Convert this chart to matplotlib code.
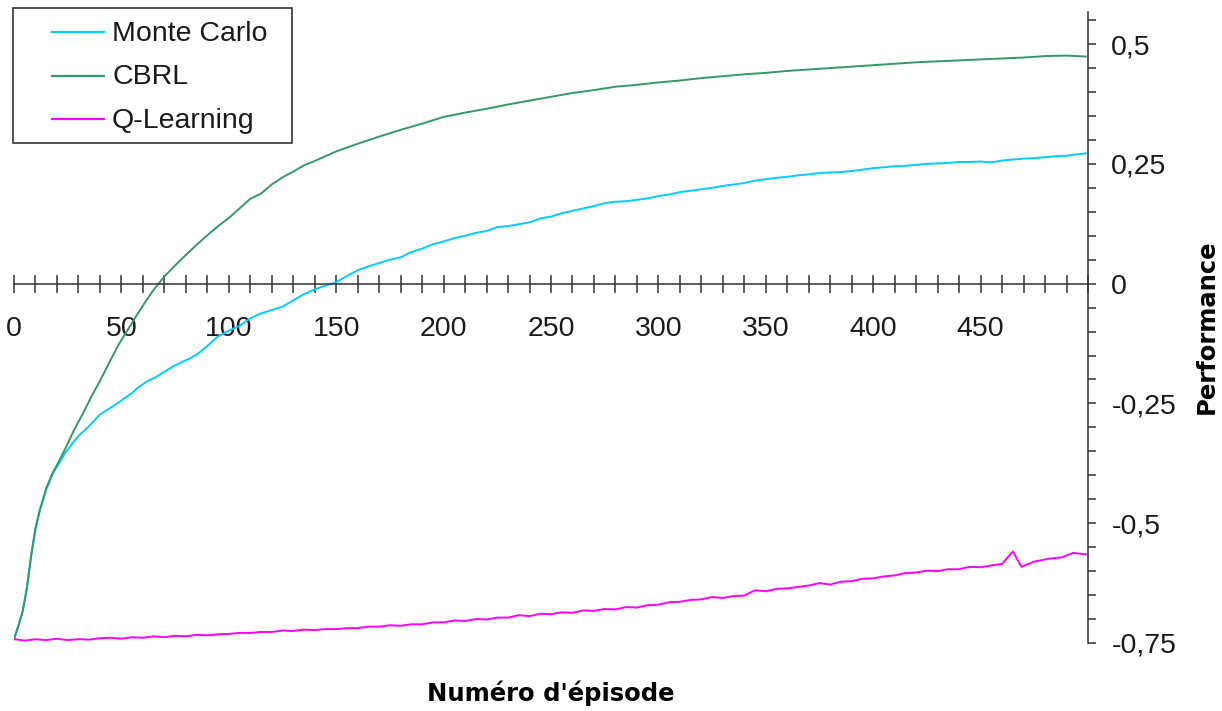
import numpy as np
import matplotlib
matplotlib.use('Agg')
import matplotlib.pyplot as plt
from matplotlib.lines import Line2D
from matplotlib.patches import Rectangle

# Performance moyenne par épisode pour les trois méthodes
cbrl_ep = [0, 2, 4, 6, 8, 10, 12, 15, 18, 21, 24, 28, 32, 36, 40, 45, 49, 53, 57, 61,
           65, 70, 75, 80, 85, 90, 95, 100, 105, 110, 115, 120, 125, 130, 135, 140,
           150, 160, 170, 180, 190, 200, 210, 220, 230, 240, 250, 260, 270, 280, 290,
           300, 310, 320, 330, 340, 350, 360, 370, 380, 390, 400, 410, 420, 430, 440,
           450, 460, 470, 480, 490, 499]
cbrl_perf = [-0.742, -0.715, -0.685, -0.635, -0.568, -0.512, -0.474, -0.427, -0.395, -0.370,
             -0.343, -0.305, -0.272, -0.236, -0.203, -0.159, -0.125, -0.096, -0.067, -0.039,
             -0.013, 0.015, 0.038, 0.060, 0.081, 0.101, 0.120, 0.137, 0.157, 0.177,
             0.188, 0.207, 0.222, 0.234, 0.247, 0.256, 0.276, 0.292, 0.307, 0.321,
             0.334, 0.348, 0.357, 0.365, 0.374, 0.382, 0.390, 0.398, 0.404, 0.411,
             0.415, 0.420, 0.424, 0.429, 0.433, 0.437, 0.440, 0.444, 0.447, 0.450,
             0.453, 0.456, 0.459, 0.462, 0.464, 0.466, 0.468, 0.470, 0.472, 0.475,
             0.476, 0.474]

mc_ep = [0, 2, 4, 6, 8, 10, 12, 15, 18, 21, 24, 27, 30, 35, 40, 45, 50, 55, 58, 62, 66,
         70, 74, 78, 82, 86, 90, 95, 100, 105, 110, 115, 120, 125, 130, 135, 140, 145,
         150, 155, 160, 165, 170, 175, 180, 185, 190, 195, 200, 205, 210, 215, 220, 225,
         230, 235, 240, 245, 250, 255, 260, 265, 270, 275, 280, 285, 290, 295, 300, 305,
         310, 315, 320, 325, 330, 335, 340, 345, 350, 355, 360, 365, 370, 375, 380, 385,
         390, 395, 400, 405, 410, 415, 420, 425, 430, 435, 440, 445, 450, 455, 460, 465,
         470, 475, 480, 485, 490, 495, 499]
mc_perf = [-0.742, -0.715, -0.684, -0.636, -0.566, -0.510, -0.472, -0.430, -0.397, -0.375,
           -0.352, -0.335, -0.318, -0.297, -0.273, -0.259, -0.244, -0.228, -0.216, -0.204,
           -0.195, -0.184, -0.173, -0.164, -0.156, -0.145, -0.130, -0.110, -0.098, -0.088,
           -0.072, -0.062, -0.055, -0.048, -0.035, -0.022, -0.012, -0.004, 0.003, 0.016,
           0.028, 0.036, 0.043, 0.050, 0.055, 0.066, 0.073, 0.082, 0.088, 0.095,
           0.100, 0.106, 0.110, 0.118, 0.120, 0.124, 0.128, 0.136, 0.140, 0.147,
           0.152, 0.157, 0.162, 0.168, 0.171, 0.172, 0.175, 0.178, 0.183, 0.186,
           0.191, 0.194, 0.197, 0.200, 0.204, 0.207, 0.210, 0.215, 0.218, 0.221,
           0.223, 0.226, 0.228, 0.231, 0.232, 0.233, 0.235, 0.238, 0.241, 0.243,
           0.245, 0.246, 0.248, 0.250, 0.251, 0.252, 0.254, 0.254, 0.255, 0.253,
           0.257, 0.259, 0.261, 0.262, 0.264, 0.266, 0.267, 0.270, 0.272]

ql_ep = [0, 5, 10, 15, 20, 25, 30, 35, 40, 45, 50, 55, 60, 65, 70, 75, 80, 85, 90, 95,
         100, 105, 110, 115, 120, 125, 130, 135, 140, 145, 150, 155, 160, 165, 170, 175,
         180, 185, 190, 195, 200, 205, 210, 215, 220, 225, 230, 235, 240, 245, 250, 255,
         260, 265, 270, 275, 280, 285, 290, 295, 300, 305, 310, 315, 320, 325, 330, 335,
         340, 345, 350, 355, 360, 365, 370, 375, 380, 385, 390, 395, 400, 405, 410, 415,
         420, 425, 430, 435, 440, 445, 450, 455, 460, 465, 469, 475, 482, 488, 493, 499]
ql_perf = [-0.742, -0.745, -0.742, -0.744, -0.741, -0.744, -0.742, -0.743, -0.740, -0.739,
           -0.741, -0.738, -0.739, -0.736, -0.738, -0.735, -0.736, -0.733, -0.734, -0.732,
           -0.731, -0.729, -0.729, -0.727, -0.727, -0.724, -0.725, -0.722, -0.723, -0.721,
           -0.721, -0.719, -0.719, -0.716, -0.716, -0.713, -0.714, -0.711, -0.711, -0.707,
           -0.707, -0.703, -0.704, -0.700, -0.701, -0.697, -0.697, -0.692, -0.694, -0.689,
           -0.690, -0.686, -0.687, -0.682, -0.683, -0.679, -0.680, -0.675, -0.676, -0.671,
           -0.670, -0.665, -0.664, -0.660, -0.659, -0.654, -0.656, -0.652, -0.651, -0.640,
           -0.642, -0.637, -0.636, -0.633, -0.630, -0.625, -0.628, -0.622, -0.621, -0.616,
           -0.615, -0.611, -0.609, -0.604, -0.603, -0.599, -0.600, -0.596, -0.596, -0.591,
           -0.592, -0.588, -0.585, -0.559, -0.591, -0.580, -0.574, -0.571, -0.562, -0.565]

series_names = ['Monte Carlo', 'CBRL', 'Q-Learning']
series_colors = ['#00CCFF', '#339966', '#FF00FF']

x_major = [0, 50, 100, 150, 200, 250, 300, 350, 400, 450]
y_major = [-0.75, -0.5, -0.25, 0, 0.25, 0.5]
y_tick_labels = ['-0,75', '-0,5', '-0,25', '0', '0,25', '0,5']

W, H = 1222, 711
fig = plt.figure(figsize=(W / 100, H / 100), dpi=100)
ax = fig.add_axes([14 / W, 68 / H, 1074 / W, 631 / H])

ax.plot(mc_ep, mc_perf, color=series_colors[0], lw=1.4)
ax.plot(cbrl_ep, cbrl_perf, color=series_colors[1], lw=1.4)
ax.plot(ql_ep, ql_perf, color=series_colors[2], lw=1.4)

ax.set_xlim(0, 500)
ax.set_ylim(-0.75, 0.567)

axis_col = '#333333'
ax.spines['left'].set_visible(False)
ax.spines['top'].set_visible(False)
ax.spines['bottom'].set_position(('data', 0))
for s in ('bottom', 'right'):
    ax.spines[s].set_color(axis_col)
    ax.spines[s].set_linewidth(1.1)

tick_font = {'family': 'Liberation Sans', 'size': 20.5}

# axe des ordonnées à droite
ax.yaxis.tick_right()
ax.set_yticks(y_major)
ax.set_yticklabels(y_tick_labels, fontdict=tick_font)
ax.set_yticks(np.arange(-0.75, 0.56, 0.05), minor=True)
ax.tick_params(axis='y', which='both', direction='out', length=5.8, width=1.1,
               color=axis_col, labelcolor='#1a1a1a', pad=11)

# axe des abscisses qui passe par zéro
ax.set_xticks(x_major)
ax.set_xticklabels([str(v) for v in x_major], fontdict=tick_font)
ax.set_xticks(np.arange(0, 501, 10), minor=True)
ax.tick_params(axis='x', which='both', direction='inout', length=13, width=1.1,
               color=axis_col, labelcolor='#1a1a1a', pad=17)

# légende encadrée en haut à gauche
fig.add_artist(Rectangle((13 / W, 1 - 143 / H), 279 / W, 135 / H,
                         transform=fig.transFigure, fc='white', ec=axis_col, lw=1.2))
line_rows = [31.7, 75.7, 119.3]
text_rows = [40.7, 84.0, 127.5]
for name, col, ly, ty in zip(series_names, series_colors, line_rows, text_rows):
    fig.add_artist(Line2D([52 / W, 104 / W], [1 - ly / H, 1 - ly / H],
                          transform=fig.transFigure, color=col, lw=1.6))
    fig.text(112 / W, 1 - ty / H, name, va='baseline', ha='left',
             color='#1a1a1a', **tick_font)

fig.text(551 / W, 1 - 693 / H, "Numéro d'épisode", ha='center', va='center',
         fontsize=17.5, fontweight='bold', family='DejaVu Sans')
fig.text(1207 / W, 1 - 327 / H, 'Performance', ha='center', va='center', rotation=90,
         fontsize=17.5, fontweight='bold', family='DejaVu Sans')

fig.savefig('out.png', dpi=100)
